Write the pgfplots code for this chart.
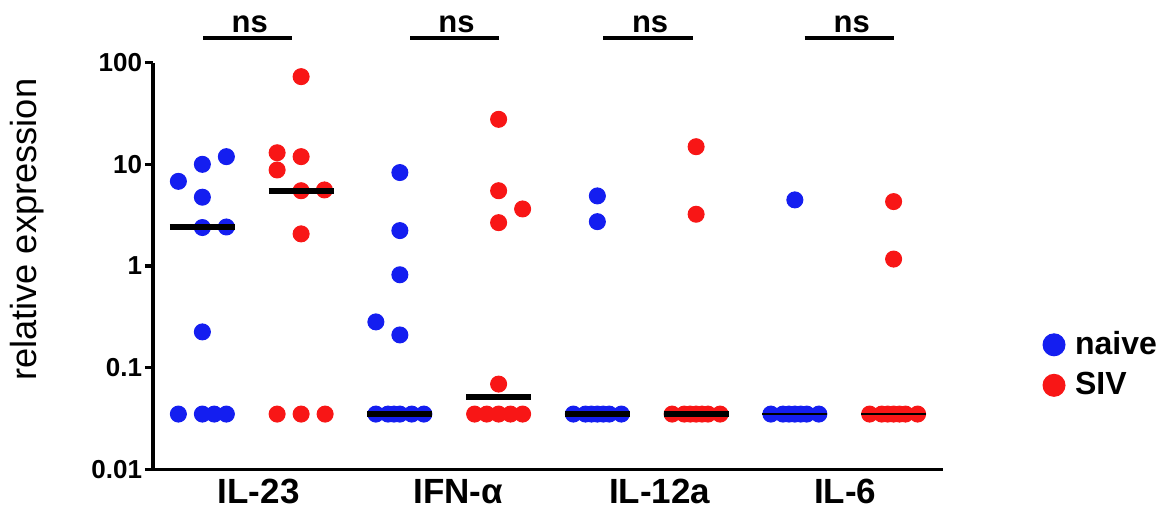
\documentclass[border=0pt]{standalone}
\usepackage{fontspec}
\setmainfont{Liberation Sans}
\usepackage{pgfplots}
\pgfplotsset{compat=1.18}
\definecolor{naiveblue}{RGB}{20,30,240}
\definecolor{sivred}{RGB}{248,22,22}

\begin{document}
\begin{tikzpicture}
\begin{axis}[
  set layers,
  scale only axis, width=316pt, height=162.7pt,
  ymode=log, ymin=0.01, ymax=100,
  xmin=-0.5, xmax=7.5,
  axis x line*=bottom, axis y line*=left,
  axis line style={line width=1.4pt,-},
  ytick={0.01,0.1,1,10,100}, yticklabels={0.01,0.1,1,10,100},
  yminorticks=false,
  tick align=outside, major tick length=3.2pt,
  y tick style={line width=1.4pt,black},
  x tick style={draw=none},
  yticklabel style={font=\fontsize{10.4}{12}\selectfont\bfseries,inner sep=1pt},
  xtick={0.57,2.59,4.63,6.51},
  xticklabels={IL-23,IFN-α,IL-12a,IL-6},
  xticklabel style={font=\fontsize{14}{16}\selectfont\bfseries,inner sep=0pt,yshift=-0.6pt},
  ylabel={relative expression},
  ylabel style={font=\fontsize{14.5}{17}\selectfont,at={(axis description cs:-0.159,0.589)},anchor=center},
  clip=false,
  mark size=3.2pt,
  legend style={at={(axis description cs:1.1165,0.257)},anchor=west,draw=none,fill=none,
    font=\fontsize{12.8}{14}\selectfont\bfseries,row sep=5.6pt,column sep=4pt,
    nodes={inner sep=0pt}},
  legend cell align=left,
  legend image code/.code={\draw[#1,mark size=4.4pt] plot coordinates {(0pt,0pt)};},
]
% naive
\addplot[only marks,mark=*,naiveblue] coordinates {
(-0.243,6.8) (0,10.0) (0.243,11.9) (0,4.75) (0,2.39) (0.243,2.42) (0,0.225)
(-0.243,0.035) (0,0.035) (0.12,0.035) (0.243,0.035)
(2,8.3) (2,2.23) (2,0.82) (1.757,0.282) (2,0.21)
(1.757,0.035) (1.88,0.035) (1.94,0.035) (2,0.035) (2.12,0.035) (2.243,0.035)
(4,4.89) (4,2.73)
(3.757,0.035) (3.88,0.035) (3.94,0.035) (4,0.035) (4.06,0.035) (4.12,0.035) (4.243,0.035)
(6,4.47)
(5.757,0.035) (5.88,0.035) (5.94,0.035) (6,0.035) (6.06,0.035) (6.12,0.035) (6.243,0.035)
};
% SIV
\addplot[only marks,mark=*,sivred] coordinates {
(1,72.8) (0.757,13.0) (1,11.9) (0.757,8.8) (1,5.5) (1.236,5.6) (1,2.07)
(0.757,0.035) (1,0.035) (1.243,0.035)
(3,27.7) (3,5.5) (3.243,3.64) (3,2.67) (3,0.069)
(2.757,0.035) (2.88,0.035) (3,0.035) (3.12,0.035) (3.243,0.035)
(5,14.9) (5,3.23)
(4.757,0.035) (4.88,0.035) (4.94,0.035) (5,0.035) (5.06,0.035) (5.12,0.035) (5.243,0.035)
(7,4.30) (7,1.17)
(6.757,0.035) (6.88,0.035) (6.94,0.035) (7,0.035) (7.06,0.035) (7.12,0.035) (7.243,0.035)
};
\legend{naive,SIV}
% medians
\pgfplotsset{every axis plot post/.append style={on layer=axis foreground}}
\addplot[black,line width=2.4pt,forget plot] coordinates {(-0.33,2.4) (0.33,2.4)};
\addplot[black,line width=2.4pt,forget plot] coordinates {(0.67,5.5) (1.33,5.5)};
\addplot[black,line width=2.4pt,forget plot] coordinates {(1.67,0.035) (2.33,0.035)};
\addplot[black,line width=2.4pt,forget plot] coordinates {(2.67,0.0513) (3.33,0.0513)};
\addplot[black,line width=2.4pt,forget plot] coordinates {(3.67,0.035) (4.33,0.035)};
\addplot[black,line width=2.4pt,forget plot] coordinates {(4.67,0.035) (5.33,0.035)};
\addplot[black,line width=1pt,forget plot] coordinates {(5.67,0.035) (6.33,0.035)};
\addplot[black,line width=1pt,forget plot] coordinates {(6.67,0.035) (7.33,0.035)};
% significance
\draw[line width=1.4pt] (axis cs:0.01,175) -- (axis cs:0.91,175);
\draw[line width=1.4pt] (axis cs:2.105,175) -- (axis cs:3.0,175);
\draw[line width=1.4pt] (axis cs:4.06,175) -- (axis cs:4.97,175);
\draw[line width=1.4pt] (axis cs:6.10,175) -- (axis cs:7.0,175);
\node[anchor=base,yshift=2pt,font=\fontsize{12.4}{14}\selectfont\bfseries] at (axis cs:0.48,175) {ns};
\node[anchor=base,yshift=2pt,font=\fontsize{12.4}{14}\selectfont\bfseries] at (axis cs:2.574,175) {ns};
\node[anchor=base,yshift=2pt,font=\fontsize{12.4}{14}\selectfont\bfseries] at (axis cs:4.534,175) {ns};
\node[anchor=base,yshift=2pt,font=\fontsize{12.4}{14}\selectfont\bfseries] at (axis cs:6.576,175) {ns};
\end{axis}
\pgfresetboundingbox
\useasboundingbox (-61.2pt,-17.04pt) rectangle (404pt,187.76pt);
\end{tikzpicture}
\end{document}
